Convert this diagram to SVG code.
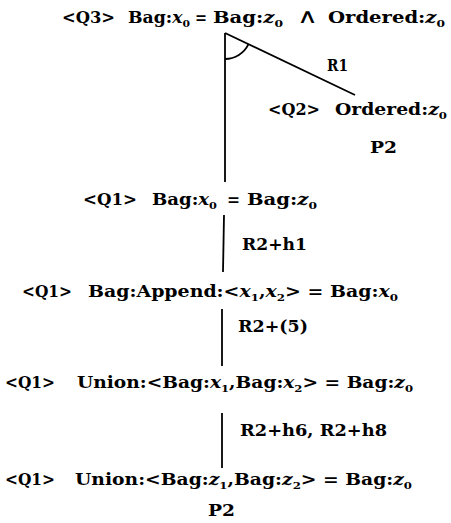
<svg xmlns="http://www.w3.org/2000/svg" width="451" height="523" viewBox="0 0 451 523">
<style>
text{font-family:"DejaVu Serif","Liberation Serif",serif;font-weight:bold;font-size:16px;fill:#000}
.v{font-style:italic}
.s{font-size:10px}
.w{font-weight:normal;font-size:20px}
.c{stroke:#000;stroke-width:1.8;fill:none}
</style>
<rect width="451" height="523" fill="#fff"/>
<g id="connectors">
  <path class="c" d="M225,33 L225,182"/>
  <path class="c" d="M355,95 L225,33"/>
  <path class="c" d="M225,59 A26,26 0 0 0 248.5,44.2"/>
  <path class="c" d="M224,215 L223,272"/>
  <path class="c" d="M222,309 L222,366"/>
  <path class="c" d="M222,413 L222,468"/>
  <text x="327" y="71" textLength="21" lengthAdjust="spacingAndGlyphs">R1</text>
  <text x="242" y="250" textLength="65" lengthAdjust="spacingAndGlyphs">R2+h1</text>
  <text x="238" y="332" textLength="70" lengthAdjust="spacingAndGlyphs">R2+(5)</text>
  <text x="240" y="436" textLength="147" lengthAdjust="spacingAndGlyphs">R2+h6, R2+h8</text>
</g>
<g id="q3">
  <text x="62" y="23" textLength="53" lengthAdjust="spacingAndGlyphs">&lt;Q3&gt;</text>
  <text x="128" y="23" textLength="62" lengthAdjust="spacingAndGlyphs">Bag:<tspan class="v">x</tspan><tspan class="s" dy="4">0</tspan></text>
  <text x="195" y="23" textLength="12" lengthAdjust="spacingAndGlyphs">=</text>
  <text x="213" y="23" textLength="70" lengthAdjust="spacingAndGlyphs">Bag:<tspan class="v">z</tspan><tspan class="s" dy="4">0</tspan></text>
  <text x="297" y="23" class="w" textLength="21" lengthAdjust="spacingAndGlyphs">∧</text>
  <text x="328" y="23" textLength="117" lengthAdjust="spacingAndGlyphs">Ordered:<tspan class="v">z</tspan><tspan class="s" dy="4">0</tspan></text>
</g>
<g id="q2">
  <text x="268" y="115" textLength="52" lengthAdjust="spacingAndGlyphs">&lt;Q2&gt;</text>
  <text x="335" y="115" textLength="112" lengthAdjust="spacingAndGlyphs">Ordered:<tspan class="v">z</tspan><tspan class="s" dy="4">0</tspan></text>
  <text x="370" y="153" textLength="27" lengthAdjust="spacingAndGlyphs">P2</text>
</g>
<g id="q1a">
  <text x="83" y="205" textLength="54" lengthAdjust="spacingAndGlyphs">&lt;Q1&gt;</text>
  <text x="152" y="205" textLength="65" lengthAdjust="spacingAndGlyphs">Bag:<tspan class="v">x</tspan><tspan class="s" dy="4">0</tspan></text>
  <text x="227" y="205" textLength="13" lengthAdjust="spacingAndGlyphs">=</text>
  <text x="247" y="205" textLength="70" lengthAdjust="spacingAndGlyphs">Bag:<tspan class="v">z</tspan><tspan class="s" dy="4">0</tspan></text>
</g>
<g id="q1b">
  <text x="22" y="297" textLength="50" lengthAdjust="spacingAndGlyphs">&lt;Q1&gt;</text>
  <text x="88" y="297" textLength="310" lengthAdjust="spacingAndGlyphs">Bag:Append:&lt;<tspan class="v">x</tspan><tspan class="s" dy="4">1</tspan><tspan dy="-4">,</tspan><tspan class="v">x</tspan><tspan class="s" dy="4">2</tspan><tspan dy="-4">&gt; = Bag:</tspan><tspan class="v">x</tspan><tspan class="s" dy="4">0</tspan></text>
</g>
<g id="q1c">
  <text x="5" y="388" textLength="50" lengthAdjust="spacingAndGlyphs">&lt;Q1&gt;</text>
  <text x="77" y="388" textLength="336" lengthAdjust="spacingAndGlyphs">Union:&lt;Bag:<tspan class="v">x</tspan><tspan class="s" dy="4">1</tspan><tspan dy="-4">,Bag:</tspan><tspan class="v">x</tspan><tspan class="s" dy="4">2</tspan><tspan dy="-4">&gt; = Bag:</tspan><tspan class="v">z</tspan><tspan class="s" dy="4">0</tspan></text>
</g>
<g id="q1d">
  <text x="5" y="485" textLength="50" lengthAdjust="spacingAndGlyphs">&lt;Q1&gt;</text>
  <text x="75" y="485" textLength="337" lengthAdjust="spacingAndGlyphs">Union:&lt;Bag:<tspan class="v">z</tspan><tspan class="s" dy="4">1</tspan><tspan dy="-4">,Bag:</tspan><tspan class="v">z</tspan><tspan class="s" dy="4">2</tspan><tspan dy="-4">&gt; = Bag:</tspan><tspan class="v">z</tspan><tspan class="s" dy="4">0</tspan></text>
  <text x="208" y="516" textLength="27" lengthAdjust="spacingAndGlyphs">P2</text>
</g>
</svg>
